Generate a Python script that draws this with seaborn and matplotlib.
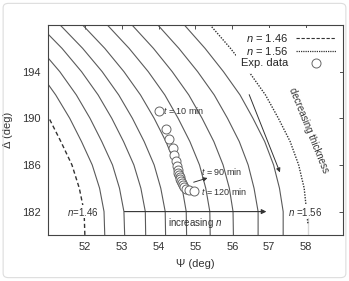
"""
Psi-Delta ellipsometry map: iso-index curves with experimental data.
"""

import matplotlib
matplotlib.use("Agg")
import pandas as pd
import seaborn as sns
import matplotlib.pyplot as plt
from matplotlib.lines import Line2D
from matplotlib.patches import FancyBboxPatch

# Delta grid (deg) shared by all curves
delta_grid = [180, 182, 184, 186, 188, 190, 192, 194, 196, 198]

# Psi (deg) of each constant-n curve at delta_grid
psi_n146 = [52.00, 51.98, 51.85, 51.65, 51.35, 51.03, 50.65, 50.20, 49.65, 49.00]
psi_n147 = [52.54, 52.52, 52.40, 52.20, 51.91, 51.59, 51.21, 50.76, 50.22, 49.58]
psi_n148 = [53.08, 53.06, 52.94, 52.75, 52.46, 52.14, 51.77, 51.32, 50.78, 50.15]
psi_n149 = [53.65, 53.64, 53.52, 53.33, 53.05, 52.73, 52.36, 51.91, 51.38, 50.76]
psi_n150 = [54.19, 54.18, 54.06, 53.88, 53.61, 53.29, 52.92, 52.47, 51.94, 51.33]
psi_n151 = [54.76, 54.75, 54.64, 54.46, 54.20, 53.88, 53.51, 53.06, 52.54, 51.94]
psi_n152 = [55.40, 55.39, 55.28, 55.11, 54.85, 54.53, 54.17, 53.72, 53.20, 52.61]
psi_n153 = [56.03, 56.02, 55.92, 55.75, 55.50, 55.18, 54.82, 54.37, 53.86, 53.28]
psi_n154 = [56.70, 56.70, 56.59, 56.43, 56.19, 55.87, 55.51, 55.06, 54.55, 53.98]
psi_n155 = [57.38, 57.38, 57.28, 57.12, 56.88, 56.56, 56.21, 55.76, 55.26, 54.70]
psi_n156 = [58.05, 58.05, 57.95, 57.80, 57.57, 57.25, 56.90, 56.45, 55.95, 55.40]

# experimental data (t = 10 ... 120 min)
exp_psi = [54.00, 54.21, 54.29, 54.38, 54.43, 54.47, 54.50, 54.52, 54.54, 54.56,
           54.58, 54.59, 54.61, 54.63, 54.65, 54.68, 54.74, 54.82, 54.95]
exp_delta = [190.65, 189.06, 188.20, 187.43, 186.86, 186.37, 185.92, 185.57, 185.35,
             185.14, 184.95, 184.78, 184.60, 184.43, 184.25, 184.09, 183.90, 183.85, 183.75]

solid_curves = {
    "1.47": psi_n147, "1.48": psi_n148, "1.49": psi_n149, "1.50": psi_n150,
    "1.51": psi_n151, "1.52": psi_n152, "1.53": psi_n153, "1.54": psi_n154,
    "1.55": psi_n155,
}

LINE = "#5a5a5a"
DARK = "#333333"

sns.set_style("white")
plt.rcParams["font.family"] = ["Liberation Sans", "DejaVu Sans"]
plt.rcParams["mathtext.fontset"] = "custom"
plt.rcParams["mathtext.rm"] = "Liberation Sans"
plt.rcParams["mathtext.it"] = "Liberation Sans:italic"

fig = plt.figure(figsize=(3.49, 2.81), dpi=100)
ax = fig.add_axes([0.1375, 0.164, 0.845, 0.747])

solid_df = pd.concat(
    [pd.DataFrame({"psi": v, "delta": delta_grid, "n": k}) for k, v in solid_curves.items()]
)
sns.lineplot(data=solid_df, x="psi", y="delta", units="n", estimator=None, sort=False,
             color=LINE, lw=0.8, ax=ax, legend=False)

df146 = pd.DataFrame({"psi": psi_n146, "delta": delta_grid})
df156 = pd.DataFrame({"psi": psi_n156, "delta": delta_grid})
sns.lineplot(data=df146, x="psi", y="delta", sort=False, color=DARK, lw=1.0,
             linestyle=(0, (3, 2)), ax=ax)
sns.lineplot(data=df156, x="psi", y="delta", sort=False, color=DARK, lw=1.0,
             linestyle=(0, (1, 1)), ax=ax)

exp_df = pd.DataFrame({"psi": exp_psi, "delta": exp_delta})
sns.scatterplot(data=exp_df, x="psi", y="delta", s=42, facecolor="white",
                edgecolor="#666666", linewidth=0.7, ax=ax, zorder=5)

ax.set_xlim(51, 59)
ax.set_ylim(180, 198)
ax.set_xticks([52, 53, 54, 55, 56, 57, 58])
ax.set_yticks([182, 186, 190, 194])
ax.tick_params(direction="in", length=3, width=0.6, colors=DARK, labelsize=8,
               top=True, right=True, labeltop=False, labelright=False, pad=5)
for s in ax.spines.values():
    s.set_color("#444444")
    s.set_linewidth(0.8)
ax.set_xlabel("\u03a8 (deg)", fontsize=8, color=DARK, labelpad=5)
ax.set_ylabel("\u0394 (deg)", fontsize=8, color=DARK, labelpad=7)

# annotations
txt = dict(fontsize=6.5, color=DARK)
ax.text(54.12, 190.65, "$t$ = 10 min", va="center", ha="left", **txt)
ax.text(55.14, 185.4, "$t$ = 90 min", va="center", ha="left", **txt)
ax.text(55.16, 183.7, "$t$ = 120 min", va="center", ha="left", **txt)
ax.annotate("", xy=(55.4, 184.95), xytext=(54.88, 184.45),
            arrowprops=dict(arrowstyle="-|>", color=DARK, lw=0.7, mutation_scale=6))
ax.text(51.95, 182, "$n$=1.46", va="center", ha="center",
        bbox=dict(fc="white", ec="none", pad=0.5), fontsize=7, color=DARK)
ax.text(57.97, 182, "$n$ =1.56", va="center", ha="center",
        bbox=dict(fc="white", ec="none", pad=0.5), fontsize=7, color=DARK)
ax.annotate("", xy=(57.0, 182), xytext=(53.0, 182),
            arrowprops=dict(arrowstyle="-|>", color=DARK, lw=0.8, mutation_scale=7))
ax.text(55.0, 181.0, "increasing $n$", va="center", ha="center", fontsize=7, color=DARK)
ax.annotate("", xy=(57.32, 185.14), xytext=(56.43, 192.25),
            arrowprops=dict(arrowstyle="-|>", color=DARK, lw=0.7, mutation_scale=6))
ax.text(58.08, 189.0, "decreasing thickness", rotation=-68, rotation_mode="anchor",
        va="center", ha="center", fontsize=7, color=DARK)

handles = [
    Line2D([], [], color=DARK, lw=0.8, linestyle=(0, (3, 1.5))),
    Line2D([], [], color=DARK, lw=0.9, linestyle=(0, (1, 0.8))),
    Line2D([], [], ls="none", marker="o", ms=6.5, mfc="white", mec="#666666", mew=0.7),
]
leg = ax.legend(handles, ["$n$ = 1.46", "$n$ = 1.56", "Exp. data"], loc="upper right",
                markerfirst=False, fontsize=8, handlelength=3.6, labelspacing=0.1,
                handletextpad=0.7, borderaxespad=0.25, frameon=True, framealpha=1,
                fancybox=False)
leg.get_frame().set_edgecolor("none")
leg.set_zorder(10)

fig.patches.append(FancyBboxPatch((0.009, 0.012), 0.982, 0.976,
                                  boxstyle="round,pad=0,rounding_size=0.015",
                                  transform=fig.transFigure, fc="none", ec="#dddddd", lw=0.8))

fig.savefig("out.png", dpi=100)
